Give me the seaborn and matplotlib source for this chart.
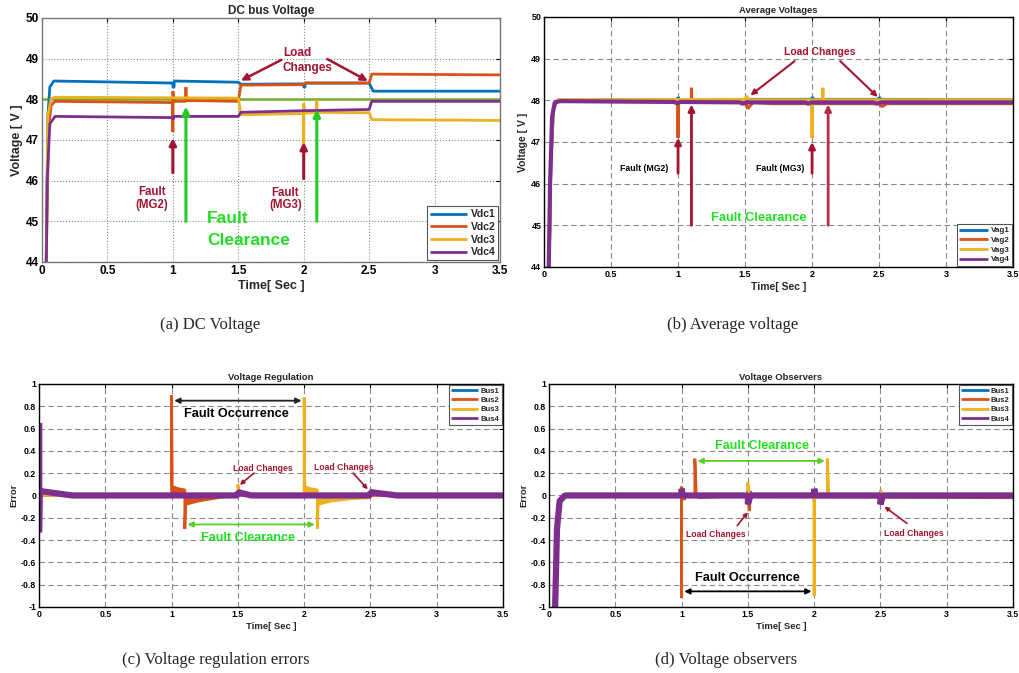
import numpy as np
import pandas as pd
import matplotlib
matplotlib.use("Agg")
import matplotlib.pyplot as plt
import seaborn as sns

# ---------------- data ----------------
time_ticks = [0, 0.5, 1, 1.5, 2, 2.5, 3, 3.5]
time_tick_labels = ['0', '0.5', '1', '1.5', '2', '2.5', '3', '3.5']
volt_ticks = [44, 45, 46, 47, 48, 49, 50]
err_ticks = [-1, -0.8, -0.6, -0.4, -0.2, 0, 0.2, 0.4, 0.6, 0.8, 1]
err_tick_labels = ['-1', '-0.8', '-0.6', '-0.4', '-0.2', '0', '0.2', '0.4', '0.6', '0.8', '1']

ref_voltage = 48

# (a) DC bus voltage
vdc1_t = [0.03, 0.045, 0.06, 0.09, 1.0, 1.0, 1.01, 1.01, 1.5, 1.52, 2.0, 2.0, 2.01, 2.01, 2.5, 2.53, 3.5]
vdc1_v = [43.5, 47.6, 48.3, 48.45, 48.40, 48.30, 48.30, 48.45, 48.42, 48.37, 48.38, 48.30, 48.30, 48.40, 48.40, 48.20, 48.20]
vdc2_t = [0.03, 0.05, 0.07, 0.1, 1.0, 1.0, 1.0, 1.01, 1.1, 1.1, 1.1, 1.5, 1.52, 2.0, 2.01, 2.5, 2.52, 3.5]
vdc2_v = [43.5, 47.3, 47.85, 47.95, 47.92, 47.2, 48.2, 47.95, 47.95, 48.3, 47.97, 47.95, 48.35, 48.36, 48.40, 48.40, 48.62, 48.60]
vdc3_t = [0.03, 0.045, 0.07, 0.1, 1.5, 1.52, 2.0, 2.0, 2.0, 2.01, 2.1, 2.1, 2.1, 2.5, 2.52, 3.5]
vdc3_v = [43.5, 47.6, 48.02, 48.05, 48.03, 47.62, 47.65, 46.9, 47.9, 47.66, 47.68, 47.98, 47.68, 47.67, 47.50, 47.48]
vdc4_t = [0.03, 0.04, 0.06, 0.1, 1.0, 1.0, 1.01, 1.5, 1.52, 2.0, 2.5, 2.52, 3.5]
vdc4_v = [43.0, 46.0, 47.4, 47.58, 47.55, 47.50, 47.58, 47.58, 47.68, 47.72, 47.75, 47.95, 47.95]

# (b) Average voltages
vag1_t = [0.035, 0.05, 0.07, 0.1, 1.0, 1.0, 1.01, 1.5, 1.52, 2.0, 2.0, 2.01, 2.5, 2.5, 2.51, 3.5]
vag1_v = [43.5, 46.5, 47.8, 48.0, 48.0, 48.08, 48.0, 48.0, 48.02, 48.02, 48.08, 48.02, 48.02, 48.08, 48.02, 48.01]
vag2_t = [0.035, 0.05, 0.07, 0.1, 1.0, 1.0, 1.0, 1.01, 1.1, 1.1, 1.1, 1.5, 1.52, 1.56, 1.7, 2.5, 2.52, 2.56, 3.5]
vag2_v = [43.5, 46.5, 47.8, 48.0, 48.0, 47.1, 48.0, 47.98, 47.98, 48.3, 47.98, 47.98, 47.8, 47.95, 47.92, 47.92, 47.85, 47.92, 47.92]
vag3_t = [0.035, 0.05, 0.07, 0.1, 1.5, 1.51, 1.53, 2.0, 2.0, 2.0, 2.01, 2.08, 2.08, 2.08, 3.5]
vag3_v = [43.5, 46.5, 47.8, 48.01, 48.02, 48.1, 48.01, 48.01, 47.1, 48.01, 48.01, 48.01, 48.3, 48.01, 48.01]
vag4_t = [0.03, 0.045, 0.06, 0.08, 0.12, 0.97, 0.99, 1.02, 1.46, 1.48, 1.52, 1.95, 1.97, 2.0, 2.46, 2.48, 2.52, 3.5]
vag4_v = [43.0, 46.0, 47.6, 47.95, 47.98, 47.96, 47.93, 47.96, 47.95, 47.92, 47.95, 47.95, 47.92, 47.95, 47.95, 47.92, 47.95, 47.95]

# (c) Voltage regulation errors
reg1_t = [0.0, 0.005, 0.1, 0.25, 1.0, 1.0, 1.02, 1.5, 1.5, 1.55, 2.5, 2.5, 2.6, 3.5]
reg1_v = [0.0, 0.03, 0.02, 0.0, 0.0, 0.02, 0.0, 0.0, 0.03, 0.0, 0.0, 0.03, 0.0, 0.0]
reg2_t = [0.0, 1.0, 1.0, 1.005, 1.05, 1.1, 1.1, 1.105, 1.2, 1.3, 1.4, 1.5, 3.5]
reg2_v = [0.0, 0.0, 0.9, 0.08, 0.06, 0.05, -0.3, -0.08, -0.05, -0.03, -0.01, 0.0, 0.0]
reg3_t = [0.0, 0.0, 0.01, 1.5, 1.5, 1.51, 1.6, 2.0, 2.0, 2.005, 2.05, 2.1, 2.1, 2.105, 2.2, 2.35, 2.5, 2.5, 2.52, 3.5]
reg3_v = [0.0, -0.33, 0.0, 0.0, 0.1, 0.03, 0.0, 0.0, 0.88, 0.08, 0.06, 0.05, -0.3, -0.08, -0.05, -0.03, -0.02, 0.05, 0.01, 0.0]
reg4_t = [0.0, 0.0, 0.0, 0.005, 0.25, 1.5, 1.5, 1.6, 2.5, 2.5, 2.7, 3.5]
reg4_v = [0.0, 0.65, -0.33, 0.04, 0.0, 0.0, 0.03, 0.0, 0.0, 0.03, 0.0, 0.0]

# (d) Voltage observers
obs1_t = [0.045, 0.06, 0.08, 0.12, 1.0, 1.0, 1.01, 1.5, 1.5, 1.51, 2.0, 2.0, 2.01, 3.5]
obs1_v = [-1.05, -0.3, -0.05, 0.0, 0.0, -0.05, 0.0, 0.0, 0.05, 0.0, 0.0, -0.05, 0.0, -0.02]
obs2_t = [0.045, 0.06, 0.08, 0.12, 1.0, 1.0, 1.0, 1.02, 1.03, 1.1, 1.1, 1.11, 1.13, 1.5, 1.51, 1.52, 1.53, 3.5]
obs2_v = [-1.05, -0.3, -0.05, 0.0, 0.0, -0.92, 0.08, -0.04, 0.0, 0.0, 0.33, 0.02, -0.02, 0.0, -0.14, 0.04, -0.01, -0.02]
obs3_t = [0.045, 0.06, 0.08, 0.12, 1.5, 1.5, 1.51, 1.52, 2.0, 2.0, 2.0, 2.02, 2.1, 2.1, 2.11, 2.5, 2.5, 2.52, 3.5]
obs3_v = [-1.05, -0.3, -0.05, 0.0, 0.0, 0.12, -0.08, 0.0, 0.0, -0.9, 0.05, 0.0, 0.0, 0.33, 0.0, 0.0, 0.05, 0.0, 0.0]
obs4_t = [0.045, 0.06, 0.08, 0.12, 1.0, 1.0, 1.01, 1.5, 1.5, 1.52, 2.0, 2.0, 2.01, 2.5, 2.5, 2.52, 3.5]
obs4_v = [-1.05, -0.3, -0.05, 0.0, 0.0, 0.06, 0.0, 0.0, -0.08, 0.0, 0.0, 0.06, 0.0, 0.0, -0.08, 0.0, 0.0]

# ---------------- style ----------------
sns.set_theme(style='white')
plt.rcParams['font.family'] = ['Liberation Sans', 'DejaVu Sans']
plt.rcParams['axes.unicode_minus'] = False
plt.rcParams['lines.solid_joinstyle'] = 'bevel'
plt.rcParams['lines.solid_capstyle'] = 'butt'

C_BLUE, C_ORANGE, C_YELLOW, C_PURPLE = '#0072BD', '#D95319', '#EDB120', '#7E2F8E'
C_DARKRED = '#A2142F'
C_GREEN_TXT = '#22E022'
C_GREEN_ARR = '#55D022'
C_REF = '#77AC30'

fig = plt.figure(figsize=(10.19, 6.73), dpi=100)
ax_a = fig.add_axes([0.0412, 0.6107, 0.4495, 0.3626])
ax_b = fig.add_axes([0.5339, 0.6033, 0.4603, 0.3715])
ax_c = fig.add_axes([0.0383, 0.0981, 0.4553, 0.3314])
ax_d = fig.add_axes([0.5388, 0.0981, 0.4553, 0.3314])


def draw_series(ax, t, v, color, label, lw, fill=False):
    sns.lineplot(x=t, y=v, ax=ax, color=color, lw=lw, label=label,
                 estimator=None, sort=False, legend=False)
    if fill:
        ax.fill_between(t, v, 0, color=color, lw=0)


def style_axes(ax, yticks, ylabels, ylim, tick_fs, grid_ls, title, title_fs,
               ylabel, label_fs, edge='black'):
    ax.set_xlim(0, 3.5)
    ax.set_ylim(*ylim)
    ax.set_xticks(time_ticks)
    ax.set_xticklabels(time_tick_labels, fontsize=tick_fs, fontweight='bold')
    ax.set_yticks(yticks)
    ax.set_yticklabels(ylabels, fontsize=tick_fs, fontweight='bold')
    ax.tick_params(direction='in', top=True, right=True, length=3, width=0.8,
                   pad=2, colors='black')
    ax.grid(True, linestyle=grid_ls, color='#8a8a8a', lw=0.8)
    ax.set_axisbelow(True)
    for s in ax.spines.values():
        s.set_color(edge)
        s.set_linewidth(1.0)
    ax.set_title(title, fontsize=title_fs, fontweight='bold', pad=3)
    ax.set_xlabel('Time[ Sec ]', fontsize=label_fs, fontweight='bold', labelpad=2)
    ax.set_ylabel(ylabel, fontsize=label_fs, fontweight='bold', labelpad=2)


def legend(ax, loc, fs):
    leg = ax.legend(loc=loc, fontsize=fs, frameon=True, fancybox=False,
                    edgecolor='#555555', framealpha=1, handlelength=3.6,
                    handletextpad=0.3, borderpad=0.3, labelspacing=0.25,
                    borderaxespad=0.15, prop={'weight': 'bold', 'size': fs})
    for line in leg.get_lines():
        line.set_linewidth(2)
    leg.get_frame().set_linewidth(0.8)


def arrow(ax, xy, xytext, color, lw, ms, style='-|>'):
    ax.annotate('', xy=xy, xytext=xytext,
                arrowprops=dict(arrowstyle=style, color=color, lw=lw,
                                mutation_scale=ms, shrinkA=0, shrinkB=0))


# ---------------- (a) ----------------
ax_a.axhline(ref_voltage, color=C_REF, lw=1.8, zorder=1)
draw_series(ax_a, vdc1_t, vdc1_v, C_BLUE, 'Vdc1', 2)
draw_series(ax_a, vdc2_t, vdc2_v, C_ORANGE, 'Vdc2', 2)
draw_series(ax_a, vdc3_t, vdc3_v, C_YELLOW, 'Vdc3', 2)
draw_series(ax_a, vdc4_t, vdc4_v, C_PURPLE, 'Vdc4', 2)
style_axes(ax_a, volt_ticks, [str(v) for v in volt_ticks], (44, 50), 8.5, ':',
           'DC bus Voltage', 8.5, 'Voltage [ V ]', 9, edge='#777777')
legend(ax_a, 'lower right', 7.5)

ax_a.text(1.84, 49.15, 'Load', color=C_DARKRED, fontsize=8.5, fontweight='bold', va='center')
ax_a.text(1.84, 48.77, 'Changes', color=C_DARKRED, fontsize=8.5, fontweight='bold', va='center')
arrow(ax_a, (1.52, 48.46), (1.83, 48.97), C_DARKRED, 1.8, 10)
arrow(ax_a, (2.49, 48.45), (2.18, 48.99), C_DARKRED, 1.8, 10)
ax_a.text(0.84, 45.57, 'Fault\n(MG2)', color=C_DARKRED, fontsize=8.3, fontweight='bold',
          ha='center', va='center', linespacing=1.1)
ax_a.text(1.86, 45.55, 'Fault\n(MG3)', color=C_DARKRED, fontsize=8.3, fontweight='bold',
          ha='center', va='center', linespacing=1.1)
arrow(ax_a, (1.0, 47.05), (1.0, 46.2), C_DARKRED, 2.2, 10)
arrow(ax_a, (2.0, 46.95), (2.0, 46.05), C_DARKRED, 2.2, 10)
arrow(ax_a, (1.1, 47.82), (1.1, 45.0), '#22CC22', 2.2, 10)
arrow(ax_a, (2.1, 47.75), (2.1, 45.0), '#22CC22', 2.2, 10)
ax_a.text(1.26, 45.08, 'Fault', color='#22DD22', fontsize=12.5, fontweight='bold', va='center')
ax_a.text(1.26, 44.52, 'Clearance', color='#22DD22', fontsize=12.5, fontweight='bold', va='center')

# ---------------- (b) ----------------
draw_series(ax_b, vag1_t, vag1_v, C_BLUE, 'Vag1', 2.2)
draw_series(ax_b, vag2_t, vag2_v, C_ORANGE, 'Vag2', 2.2)
draw_series(ax_b, vag3_t, vag3_v, C_YELLOW, 'Vag3', 2.2)
draw_series(ax_b, vag4_t, vag4_v, C_PURPLE, 'Vag4', 3)
style_axes(ax_b, volt_ticks, [str(v) for v in volt_ticks], (44, 50), 6.5, (0, (5, 3)),
           'Average Voltages', 6.8, 'Voltage [ V ]', 7.5)
legend(ax_b, 'lower right', 5.8)
ax_b.text(2.06, 49.16, 'Load Changes', color=C_DARKRED, fontsize=7.5, fontweight='bold',
          ha='center', va='center')
arrow(ax_b, (1.54, 48.12), (1.87, 48.94), C_DARKRED, 1.5, 8)
arrow(ax_b, (2.49, 48.08), (2.21, 48.94), C_DARKRED, 1.5, 8)
ax_b.text(0.75, 46.37, 'Fault (MG2)', color='black', fontsize=6.3, fontweight='bold',
          ha='center', va='center')
ax_b.text(1.76, 46.37, 'Fault (MG3)', color='black', fontsize=6.3, fontweight='bold',
          ha='center', va='center')
arrow(ax_b, (1.0, 47.1), (1.0, 46.25), C_DARKRED, 2, 9)
arrow(ax_b, (1.1, 47.9), (1.1, 45.0), C_DARKRED, 2, 9)
arrow(ax_b, (2.0, 47.0), (2.0, 46.25), C_DARKRED, 2, 9)
arrow(ax_b, (2.12, 47.9), (2.12, 45.0), '#B0304A', 2, 9)
ax_b.text(1.6, 45.18, 'Fault Clearance', color=C_GREEN_TXT, fontsize=9.3, fontweight='bold',
          ha='center', va='center')

# ---------------- (c) ----------------
draw_series(ax_c, reg1_t, reg1_v, C_BLUE, 'Bus1', 2)
draw_series(ax_c, reg2_t, reg2_v, C_ORANGE, 'Bus2', 2, fill=True)
draw_series(ax_c, reg3_t, reg3_v, C_YELLOW, 'Bus3', 2, fill=True)
draw_series(ax_c, reg4_t, reg4_v, C_PURPLE, 'Bus4', 4.5)
style_axes(ax_c, err_ticks, err_tick_labels, (-1, 1), 6.3, (0, (5, 3)),
           'Voltage Regulation', 6.8, 'Error', 6.8)
legend(ax_c, 'upper right', 5.5)
arrow(ax_c, (1.02, 0.85), (1.98, 0.85), '#222222', 1.3, 8, '<|-|>')
ax_c.text(1.49, 0.73, 'Fault Occurrence', color='black', fontsize=9.2, fontweight='bold',
          ha='center', va='center')
arrow(ax_c, (1.12, -0.26), (2.08, -0.26), C_GREEN_ARR, 1.3, 8, '<|-|>')
ax_c.text(1.58, -0.38, 'Fault Clearance', color=C_GREEN_TXT, fontsize=9.1, fontweight='bold',
          ha='center', va='center')
ax_c.text(1.69, 0.245, 'Load Changes', color=C_DARKRED, fontsize=6.2, fontweight='bold',
          ha='center', va='center')
arrow(ax_c, (1.515, 0.095), (1.62, 0.2), C_DARKRED, 1.2, 6)
ax_c.text(2.3, 0.25, 'Load Changes', color=C_DARKRED, fontsize=6.2, fontweight='bold',
          ha='center', va='center')
arrow(ax_c, (2.48, 0.055), (2.37, 0.2), C_DARKRED, 1.2, 6)

# ---------------- (d) ----------------
draw_series(ax_d, obs1_t, obs1_v, C_BLUE, 'Bus1', 2)
draw_series(ax_d, obs2_t, obs2_v, C_ORANGE, 'Bus2', 2)
draw_series(ax_d, obs3_t, obs3_v, C_YELLOW, 'Bus3', 2)
draw_series(ax_d, obs4_t, obs4_v, C_PURPLE, 'Bus4', 4.5)
style_axes(ax_d, err_ticks, err_tick_labels, (-1, 1), 6.3, (0, (5, 3)),
           'Voltage Observers', 6.8, 'Error', 6.8)
legend(ax_d, 'upper right', 5.5)
arrow(ax_d, (1.12, 0.31), (2.08, 0.31), C_GREEN_ARR, 1.3, 8, '<|-|>')
ax_d.text(1.61, 0.44, 'Fault Clearance', color=C_GREEN_TXT, fontsize=9.1, fontweight='bold',
          ha='center', va='center')
arrow(ax_d, (1.02, -0.86), (1.98, -0.86), 'black', 1.3, 8, '<|-|>')
ax_d.text(1.5, -0.74, 'Fault Occurrence', color='black', fontsize=9.2, fontweight='bold',
          ha='center', va='center')
ax_d.text(1.26, -0.35, 'Load Changes', color=C_DARKRED, fontsize=6.2, fontweight='bold',
          ha='center', va='center')
arrow(ax_d, (1.5, -0.15), (1.42, -0.27), C_DARKRED, 1.2, 6)
ax_d.text(2.75, -0.34, 'Load Changes', color=C_DARKRED, fontsize=6.2, fontweight='bold',
          ha='center', va='center')
arrow(ax_d, (2.53, -0.1), (2.7, -0.25), C_DARKRED, 1.2, 6)

# ---------------- captions ----------------
cap = dict(fontsize=12, family='Liberation Serif', ha='center', va='center')
fig.text(0.206, 0.517, '(a) DC Voltage', **cap)
fig.text(0.719, 0.517, '(b) Average voltage', **cap)
fig.text(0.212, 0.019, '(c) Voltage regulation errors', **cap)
fig.text(0.713, 0.019, '(d) Voltage observers', **cap)

fig.savefig('out.png', dpi=100)
